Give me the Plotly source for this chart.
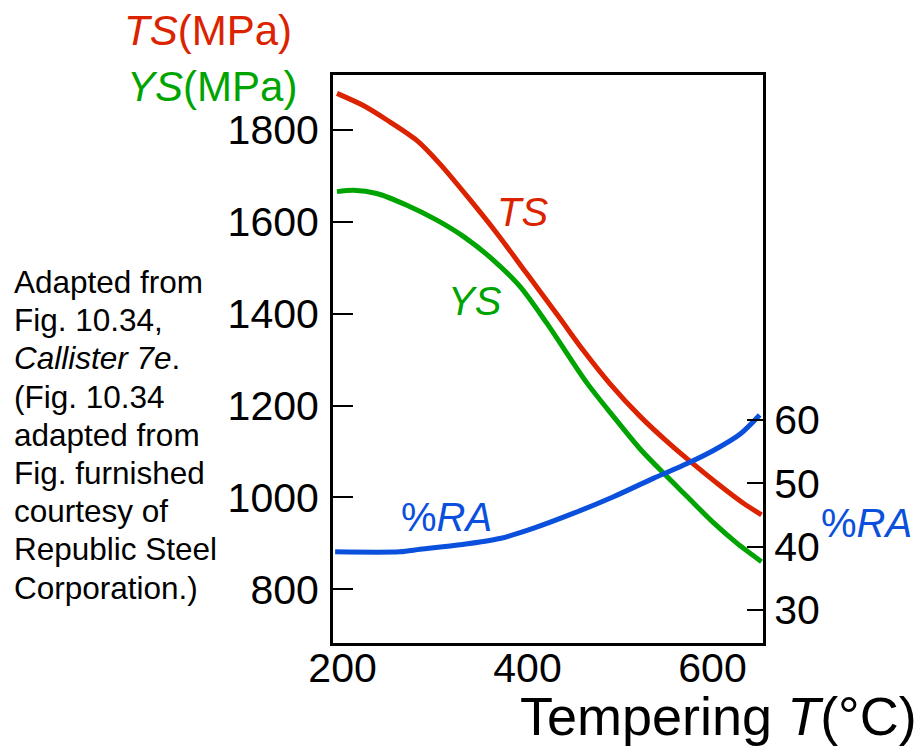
import plotly.graph_objects as go

# ---- data ----
ts_temp = [194, 222, 248, 280, 305, 338, 367, 399, 435, 460, 489, 522, 554, 572, 608, 633, 653]
ts_mpa = [1880, 1854, 1822, 1778, 1727, 1648, 1575, 1488, 1390, 1321, 1248, 1176, 1116, 1085, 1026, 988, 962]

ys_temp = [194, 212, 237, 269, 302, 331, 363, 392, 421, 464, 493, 522, 550, 572, 601, 626, 653]
ys_mpa = [1666, 1669, 1662, 1637, 1604, 1568, 1517, 1459, 1379, 1250, 1176, 1105, 1047, 1003, 945, 901, 860]

ra_temp = [192, 262, 284, 327, 370, 406, 450, 493, 536, 572, 601, 630, 651]
ra_pct = [39.2, 39.2, 39.6, 40.3, 41.3, 42.9, 45.3, 47.9, 50.8, 53.1, 55.2, 57.8, 60.8]

x_ticks = [200, 400, 600]
left_ticks = [800, 1000, 1200, 1400, 1600, 1800]
right_ticks = [30, 40, 50, 60]

note_lines = ["Adapted from", "Fig. 10.34,", "<i>Callister 7e</i>.", "(Fig. 10.34",
              "adapted from", "Fig. furnished", "courtesy of", "Republic Steel",
              "Corporation.)"]

RED = "#dc2300"
GREEN = "#00a400"
BLUE = "#0a50dc"
FONT = "Liberation Sans, Arial, sans-serif"

W, H = 922, 749
L, R, T, B = 333, 159, 75, 106
pw, ph = W - L - R, H - T - B

fig = go.Figure()
fig.add_trace(go.Scatter(x=ts_temp, y=ts_mpa, mode="lines",
                         line=dict(color=RED, width=5, shape="spline", smoothing=0.8),
                         showlegend=False, hoverinfo="skip"))
fig.add_trace(go.Scatter(x=ys_temp, y=ys_mpa, mode="lines",
                         line=dict(color=GREEN, width=5, shape="spline", smoothing=0.8),
                         showlegend=False, hoverinfo="skip"))
fig.add_trace(go.Scatter(x=ra_temp, y=ra_pct, mode="lines", yaxis="y2",
                         line=dict(color=BLUE, width=5, shape="spline", smoothing=0.8),
                         showlegend=False, hoverinfo="skip"))

def px2paper_x(px):
    return (px - L) / pw

def px2paper_y(py):
    return (H - B - py) / ph

def ann(x, y, text, size, color, xanchor="center", xref="paper", yref="paper"):
    return dict(x=x, y=y, xref=xref, yref=yref, text=text, showarrow=False,
                xanchor=xanchor, yanchor="middle",
                font=dict(family=FONT, size=size, color=color))

annotations = [
    ann(395, 1621, "<i>TS</i>", 40, RED, xref="x", yref="y"),
    ann(343, 1428, "<i>YS</i>", 40, GREEN, xref="x", yref="y"),
    ann(312, 957, "%<i>RA</i>", 40, BLUE, xref="x", yref="y"),
    ann(px2paper_x(866.5), px2paper_y(523), "%<i>RA</i>", 40, BLUE),
    ann(px2paper_x(294), px2paper_y(30), "<i>TS</i>(MPa)", 42, RED, xanchor="right"),
    ann(px2paper_x(299), px2paper_y(86), "<i>YS</i>(MPa)", 42, GREEN, xanchor="right"),
    ann(px2paper_x(919), px2paper_y(716), "Tempering <i>T</i>(°C)", 54, "black", xanchor="right"),
]
for i, line in enumerate(note_lines):
    annotations.append(ann(px2paper_x(12), px2paper_y(282 + i * 38.2), line, 31.5, "black",
                           xanchor="left"))

fig.update_layout(
    width=W, height=H,
    margin=dict(l=L, r=R, t=T, b=B, pad=0),
    paper_bgcolor="white", plot_bgcolor="white",
    font=dict(family=FONT, size=40, color="black"),
    xaxis=dict(range=[189.7, 654.6], tickvals=x_ticks, ticks="", showgrid=False, zeroline=False,
               showline=True, linecolor="black", linewidth=3, mirror=True,
               tickfont=dict(size=41), ticklabelstandoff=-13),
    yaxis=dict(range=[683, 1920], tickvals=left_ticks, ticks="inside", ticklen=20, tickwidth=2,
               tickcolor="black", showgrid=False, zeroline=False,
               showline=True, linecolor="black", linewidth=3, mirror=True,
               tickfont=dict(size=41), ticklabelstandoff=3),
    yaxis2=dict(range=[24.8, 114.5], tickvals=right_ticks, overlaying="y", side="right",
                ticks="inside", ticklen=16, tickwidth=2, tickcolor="black",
                showgrid=False, zeroline=False, showline=True, linecolor="black", linewidth=3,
                tickfont=dict(size=41), ticklabelstandoff=0),
    annotations=annotations,
)

fig.write_html("out.html")
